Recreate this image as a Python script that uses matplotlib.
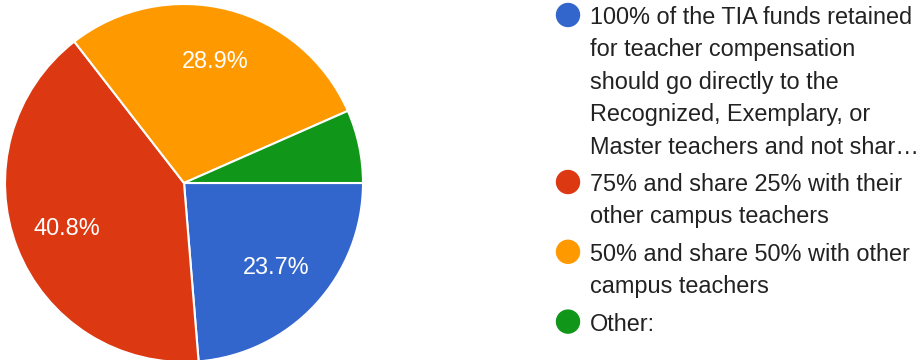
import matplotlib.pyplot as plt
from matplotlib.patches import Ellipse

plt.rcParams['font.family'] = ['Liberation Sans', 'DejaVu Sans']

# data
shares = [23.7, 40.8, 28.9, 6.6]
colors = ['#3366cc', '#dc3912', '#ff9900', '#109618']
labels = [
    "100% of the TIA funds retained\nfor teacher compensation\nshould go directly to the\n"
    "Recognized, Exemplary, or\nMaster teachers and not shar\u2026",
    "75% and share 25% with their\nother campus teachers",
    "50% and share 50% with other\ncampus teachers",
    "Other:",
]

W, H = 923, 360
fig = plt.figure(figsize=(W / 100, H / 100), dpi=100)

# pie axes, placed in pixels
ax = fig.add_axes([5 / W, -2 / H, 358 / W, 358 / H])


def pct(p):
    return '{:.1f}%'.format(p) if p > 10 else ''


ax.pie(shares, colors=colors, startangle=0, counterclock=False,
       autopct=pct, pctdistance=0.7,
       wedgeprops=dict(edgecolor='white', linewidth=1.5),
       textprops=dict(color='white', fontsize=16.9))
ax.set_xlim(-1, 1)
ax.set_ylim(-1, 1)
ax.set_aspect('equal')
ax.axis('off')

# legend, drawn by hand to match the wrapped layout
line_h = 32.4
item_gap = 5.0
base = 24.0
for lab, col in zip(labels, colors):
    lines = lab.split('\n')
    dot = Ellipse((568 / W, 1 - (base - 9) / H), 23 / W, 23 / H,
                  transform=fig.transFigure, color=col)
    fig.patches.append(dot)
    for ln in lines:
        fig.text(590 / W, 1 - base / H, ln, fontsize=16.9, color='#222222',
                 va='baseline', ha='left')
        base += line_h
    base += item_gap

fig.savefig('out.png', dpi=100)
